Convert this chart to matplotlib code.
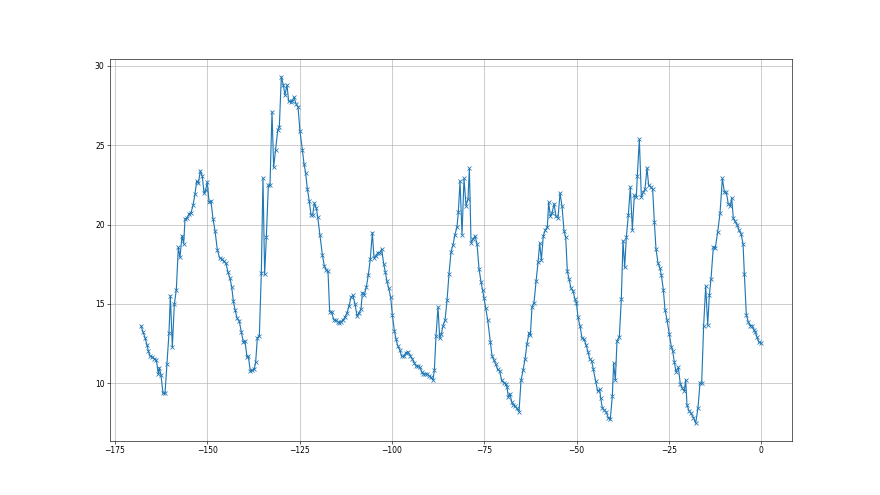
import matplotlib
matplotlib.use('Agg')
import matplotlib.pyplot as plt

# hours before now
hours = [
    -167.96, -167.42, -166.87, -166.33, -165.97, -165.52, -164.89, -164.35, -163.8, -163.26,
    -162.99, -162.54, -162.0, -161.46, -160.92, -160.37, -160.01, -159.47, -158.93, -158.39,
    -157.85, -157.4, -156.85, -156.4, -156.04, -155.5, -154.96, -154.42, -153.87, -153.33,
    -152.88, -152.43, -151.89, -151.35, -150.9, -150.45, -149.99, -149.54, -149.0, -148.46,
    -147.92, -147.28, -146.65, -146.11, -145.57, -144.93, -144.39,
    -143.86, -143.4, -142.95, -142.5, -141.96, -141.33, -140.79, -140.24, -139.79, -139.25,
    -138.89, -138.35, -137.81, -137.26, -136.9, -136.45, -135.91, -135.37, -134.92, -134.47,
    -134.01, -133.47, -133.02, -132.48, -132.03, -131.49, -130.94, -130.49, -129.95, -129.41,
    -128.96, -128.42, -127.97, -127.42, -126.97, -126.52, -125.98, -125.44, -124.9, -124.26,
    -123.81, -123.36, -122.91, -122.37, -121.92, -121.46, -121.01, -120.47,
    -120.11, -119.48, -118.84, -118.3, -117.76, -117.31, -116.86, -116.32, -115.77, -115.23,
    -114.69, -114.33, -113.79, -113.25, -112.7, -112.16, -111.62, -111.08, -110.54, -110.0,
    -109.45, -108.91, -108.37, -108.01, -107.47, -106.93, -106.38, -105.84, -105.3, -104.85,
    -104.31, -103.86, -103.31, -102.77, -102.23, -101.78, -101.33, -100.88, -100.34, -99.88,
    -99.34, -98.89, -98.44, -97.9, -97.36, -96.81, -96.27, -95.73,
    -95.0, -94.46, -93.92, -93.38, -92.84, -92.39, -91.94, -91.48, -90.94, -90.4,
    -89.95, -89.41, -88.87, -88.5, -88.05, -87.51, -87.06, -86.61, -86.16, -85.62,
    -85.07, -84.53, -83.99, -83.45, -82.91, -82.37, -82.0, -81.55, -81.01, -80.47,
    -79.93, -79.39, -79.02, -78.57, -78.03, -77.49, -76.95, -76.41, -75.86, -75.41,
    -75.05, -74.6, -74.06, -73.34, -72.89, -72.43, -71.89,
    -71.35, -70.81, -70.27, -69.72, -69.18, -68.82, -68.46, -68.01, -67.56, -67.1,
    -66.56, -66.11, -65.57, -65.03, -64.49, -63.95, -63.4, -62.86, -62.5, -62.05,
    -61.51, -60.96, -60.42, -59.97, -59.52, -58.98, -58.44, -57.9, -57.54, -57.08,
    -56.63, -56.09, -55.55, -55.01, -54.46, -53.92, -53.38, -52.93, -52.48, -52.03,
    -51.49, -50.94, -50.4, -50.04, -49.59, -49.05, -48.51, -47.96, -47.42, -46.88,
    -46.44, -45.89, -45.44, -44.81, -44.27, -43.73, -43.46, -43.01, -42.46, -41.92,
    -41.38, -40.84, -40.3, -39.94, -39.48, -39.03, -38.4, -37.86, -37.41, -36.96,
    -36.5, -35.96, -35.42, -34.88, -34.34, -33.8, -33.53, -32.98, -32.44, -31.9,
    -31.45, -30.91, -30.46, -29.91, -29.37, -28.92, -28.47, -27.93, -27.39, -27.02,
    -26.48, -26.03, -25.49, -24.86, -24.32, -23.95, -23.5, -23.05,
    -22.42, -21.88, -21.33, -20.79, -20.43, -20.07, -19.53, -18.99, -18.35, -17.72,
    -17.09, -16.55, -16.1, -15.56, -15.01, -14.47, -14.02, -13.57, -12.94, -12.4,
    -11.76, -11.13, -10.5, -9.96, -9.42, -8.87, -8.33, -7.97, -7.52, -7.07,
    -6.53, -5.99, -5.44, -4.9, -4.54, -4.0, -3.46, -2.92, -2.46, -2.01,
    -1.56, -1.11, -0.57, -0.03,
]

temps = [
    13.61, 13.23, 12.87, 12.4, 12.03, 11.7, 11.65, 11.54, 11.46, 10.55,
    10.97, 10.49, 9.35, 9.35, 11.22, 13.19, 15.51, 12.28, 14.98, 15.89,
    18.57, 17.93, 19.3, 18.78, 20.36, 20.4, 20.68, 20.74, 21.2, 21.94,
    22.74, 22.62, 23.38, 23.04, 21.98, 22.19, 22.68, 21.41, 21.48, 20.36,
    19.62, 18.4, 17.89, 17.83, 17.68, 17.55, 16.98,
    16.6, 16.08, 15.17, 14.64, 14.11, 13.9, 13.23, 12.59, 12.64, 11.65,
    11.69, 10.76, 10.8, 10.91, 11.33, 12.85, 12.97, 16.92, 22.93, 16.86,
    19.2, 22.47, 22.47, 27.11, 23.61, 24.73, 25.93, 26.18, 29.32, 28.8,
    28.16, 28.8, 27.78, 27.74, 27.78, 28.04, 27.62, 27.41, 25.89, 24.73,
    23.82, 23.25, 22.26, 21.46, 20.61, 20.61, 21.35, 21.03,
    20.49, 19.32, 18.1, 17.38, 17.11, 17.05, 14.51, 14.47, 14.0, 13.95,
    13.88, 13.8, 13.88, 13.97, 14.16, 14.43, 14.85, 15.42, 15.53, 15.0,
    14.22, 14.43, 14.68, 15.7, 15.57, 16.05, 16.84, 17.85, 19.49, 17.89,
    18.02, 18.23, 18.23, 18.44, 17.53, 17.0, 16.41, 15.99, 15.42, 14.3,
    13.31, 12.78, 12.36, 12.11, 11.69, 11.69, 11.9, 11.98,
    11.73, 11.52, 11.27, 11.05, 11.05, 10.99, 10.72, 10.57, 10.57, 10.57,
    10.46, 10.36, 10.19, 10.84, 13.0, 14.79, 12.83, 13.1, 13.63, 13.95,
    15.21, 16.9, 18.27, 18.73, 19.37, 19.85, 20.8, 22.74, 19.37, 22.91,
    21.18, 21.6, 23.54, 18.86, 19.07, 19.28, 18.8, 17.22, 16.37, 15.84,
    15.36, 14.73, 13.99, 12.57, 11.73, 11.48, 11.2,
    10.86, 10.76, 10.17, 10.02, 9.96, 9.75, 9.11, 9.33, 8.82, 8.61,
    8.54, 8.4, 8.19, 10.17, 10.8, 11.5, 12.49, 13.19, 13.04, 14.81,
    15.08, 16.41, 17.62, 18.82, 17.76, 19.3, 19.66, 19.83, 21.41, 20.51,
    20.72, 21.31, 20.51, 20.42, 21.98, 21.14, 19.58, 19.2, 17.05, 16.56,
    15.99, 15.78, 15.3, 15.08, 14.14, 13.61, 12.83, 12.76, 12.41, 11.98,
    11.54, 11.39, 10.87, 10.13, 9.49, 9.6, 9.07, 8.44, 8.29, 8.16,
    7.81, 7.74, 9.18, 11.24, 10.19, 12.66, 12.93, 15.3, 18.99, 17.3,
    19.2, 20.61, 22.36, 19.68, 21.84, 21.73, 23.06, 25.38, 21.73, 22.05,
    22.22, 23.57, 22.47, 22.36, 22.22, 20.15, 18.46, 17.57, 17.24, 16.81,
    15.89, 14.62, 13.99, 13.08, 12.3, 12.03, 11.33, 10.7,
    10.99, 9.94, 9.66, 9.51, 10.21, 8.61, 8.25, 8.1, 7.83, 7.47,
    8.46, 10.0, 10.0, 13.63, 16.12, 13.67, 15.53, 16.58, 18.59, 18.52,
    19.54, 20.7, 22.91, 22.07, 22.03, 21.27, 21.18, 21.69, 20.38, 20.21,
    20.0, 19.64, 19.43, 18.8, 16.9, 14.3, 13.84, 13.63, 13.63, 13.38,
    13.21, 12.89, 12.57, 12.53,
]

plt.figure(figsize=(16, 9), dpi=55)
plt.plot(hours, temps, marker='x')
plt.grid()
plt.savefig('out.png', dpi=55)
